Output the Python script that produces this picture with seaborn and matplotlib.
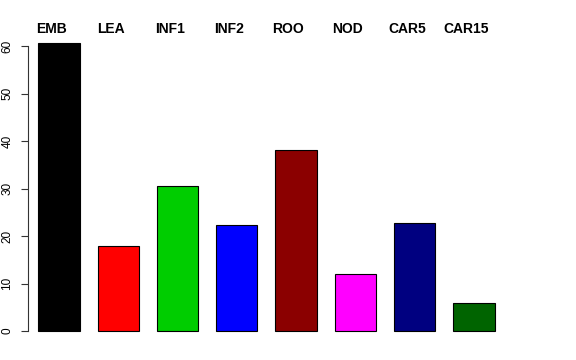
import matplotlib
matplotlib.use("Agg")
import matplotlib.pyplot as plt
import seaborn as sns
import pandas as pd

categories = ["EMB", "LEA", "INF1", "INF2", "ROO", "NOD", "CAR5", "CAR15"]
values = [60.7, 17.8, 30.5, 22.4, 38.2, 12.1, 22.7, 6.0]
colors = ["#000000", "#FF0000", "#00CD00", "#0000FF", "#8B0000", "#FF00FF", "#000080", "#006400"]
yticks = [0, 10, 20, 30, 40, 50, 60]

sns.set_style("white")
plt.rcParams["font.family"] = ["Liberation Sans", "DejaVu Sans"]
plt.rcParams["text.color"] = "black"
plt.rcParams["ytick.color"] = "black"

df = pd.DataFrame({"cat": categories, "val": values})

fig = plt.figure(figsize=(5.76, 3.6), dpi=100)
ax = fig.add_axes([28 / 576, (360 - 342.5) / 360, (504 - 28) / 576, (342.5 - 31) / 360])

sns.barplot(data=df, x="cat", y="val", hue="cat", palette=colors, legend=False,
            width=0.7, edgecolor="black", linewidth=0.8, saturation=1, ax=ax)

ax.set_xlim(-0.523, 7.51)
ax.set_ylim(-2.42, 63.16)
ax.set_xlabel("")
ax.set_ylabel("")
ax.set_xticks([])
ax.set_yticks(yticks)
ax.set_yticklabels([str(t) for t in yticks], rotation=90, va="center", fontsize=8.5)
ax.tick_params(axis="y", length=5, width=0.8, pad=5.5, color="#333333",
               labelcolor="black", left=True)
for s in ["top", "right", "bottom"]:
    ax.spines[s].set_visible(False)
ax.spines["left"].set_bounds(0, 60)
ax.spines["left"].set_color("#333333")
ax.spines["left"].set_linewidth(0.8)

for i, c in enumerate(categories):
    ax.text(i - 0.13, 62.8, c, ha="center", va="baseline", fontsize=10,
            fontweight="bold", color="black", clip_on=False)

fig.savefig("out.png", dpi=100)
